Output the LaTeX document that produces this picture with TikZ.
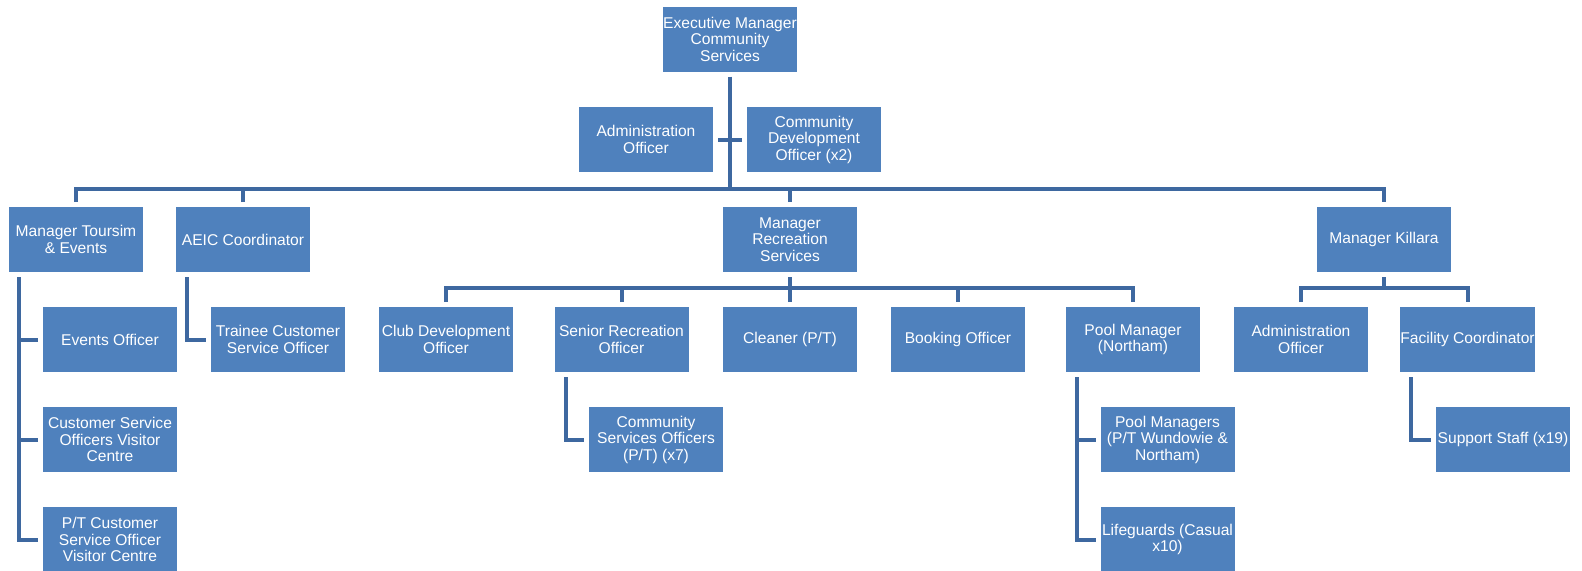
\documentclass[tikz,border=0pt]{standalone}
\usepackage{fontspec}
\setmainfont{Liberation Sans}
\usepackage{tikz}
\usetikzlibrary{calc}
\definecolor{boxblue}{RGB}{79,129,189}
\definecolor{lineblue}{RGB}{62,104,160}

\begin{document}
\begin{tikzpicture}[x=0.75pt, y=-0.75pt, inner sep=0pt,
		box/.style={rectangle, fill=boxblue, text=white, align=center, minimum width=100.5pt, minimum height=48.75pt, outer sep=3.75pt, font=\fontsize{11.7}{12.4}\selectfont},
		link/.style={draw=lineblue, line width=3pt}]
			\useasboundingbox (0,0) rectangle (1582,571);
			% top level
			\node[box](exec) at (730,39) {Executive Manager\\Community\\Services};
			\node[box](admo) at (646,139.5) {Administration\\Officer};
			\node[box](cdo) at (814,139.5) {Community\\Development\\Officer (x2)};
			% managers
			\node[box](mte) at (76,239.5) {Manager Toursim\\\& Events};
			\node[box](aeic) at (243,239.5) {AEIC Coordinator};
			\node[box](mrs) at (790,239.5) {Manager\\Recreation\\Services};
			\node[box](mk) at (1384,239.5) {Manager Killara};
			% second row
			\node[box](evo) at (110,339.5) {Events Officer};
			\node[box](tcso) at (278,339.5) {Trainee Customer\\Service Officer};
			\node[box](club) at (446,339.5) {Club Development\\Officer};
			\node[box](sro) at (621.5,339.5) {Senior Recreation\\Officer};
			\node[box](clean) at (790,339.5) {Cleaner (P/T)};
			\node[box](book) at (958,339.5) {Booking Officer};
			\node[box](poolm) at (1133,339.5) {Pool Manager\\(Northam)};
			\node[box](admk) at (1301,339.5) {Administration\\Officer};
			\node[box](fac) at (1467.5,339.5) {Facility Coordinator};
			% third row
			\node[box](cso) at (110,439.5) {Customer Service\\Officers Visitor\\Centre};
			\node[box](csof) at (656,439.5) {Community\\Services Officers\\(P/T) (x7)};
			\node[box](pms) at (1167.5,439.5) {Pool Managers\\(P/T Wundowie \&\\Northam)};
			\node[box](sup) at (1503,439.5) {Support Staff (x19)};
			% fourth row
			\node[box](ptc) at (110,539.5) {P/T Customer\\Service Officer\\Visitor Centre};
			\node[box](life) at (1167.5,539.5) {Lifeguards (Casual\\x10)};
			
			% connectors
			\coordinate (bar) at (730,189);
			\coordinate (rbar) at (790,288);
			\coordinate (kbar) at (1384,288);
			\draw[link](exec.south) -- (bar);
			\draw[link](admo.east) -- (cdo.west);
			\draw[link](mte.north) |- (bar) -| (mk.north);
			\draw[link](aeic.north) -- (aeic.north |- bar);
			\draw[link](mrs.north) -- (mrs.north |- bar);
			\draw[link](mrs.south) -- (rbar);
			\draw[link](club.north) |- (rbar) -| (poolm.north);
			\draw[link](sro.north) -- (sro.north |- rbar);
			\draw[link](clean.north) -- (clean.north |- rbar);
			\draw[link](book.north) -- (book.north |- rbar);
			\draw[link](mk.south) -- (kbar);
			\draw[link](admk.north) |- (kbar) -| (fac.north);
			\draw[link]($(mte.south west)+(15,0)$) |- (evo.west);
			\draw[link]($(mte.south west)+(15,0)$) |- (cso.west);
			\draw[link]($(mte.south west)+(15,0)$) |- (ptc.west);
			\draw[link]($(aeic.south west)+(16,0)$) |- (tcso.west);
			\draw[link]($(sro.south west)+(16,0)$) |- (csof.west);
			\draw[link]($(poolm.south west)+(16,0)$) |- (pms.west);
			\draw[link]($(poolm.south west)+(16,0)$) |- (life.west);
			\draw[link]($(fac.south west)+(16,0)$) |- (sup.west);
		\end{tikzpicture}
\end{document}
